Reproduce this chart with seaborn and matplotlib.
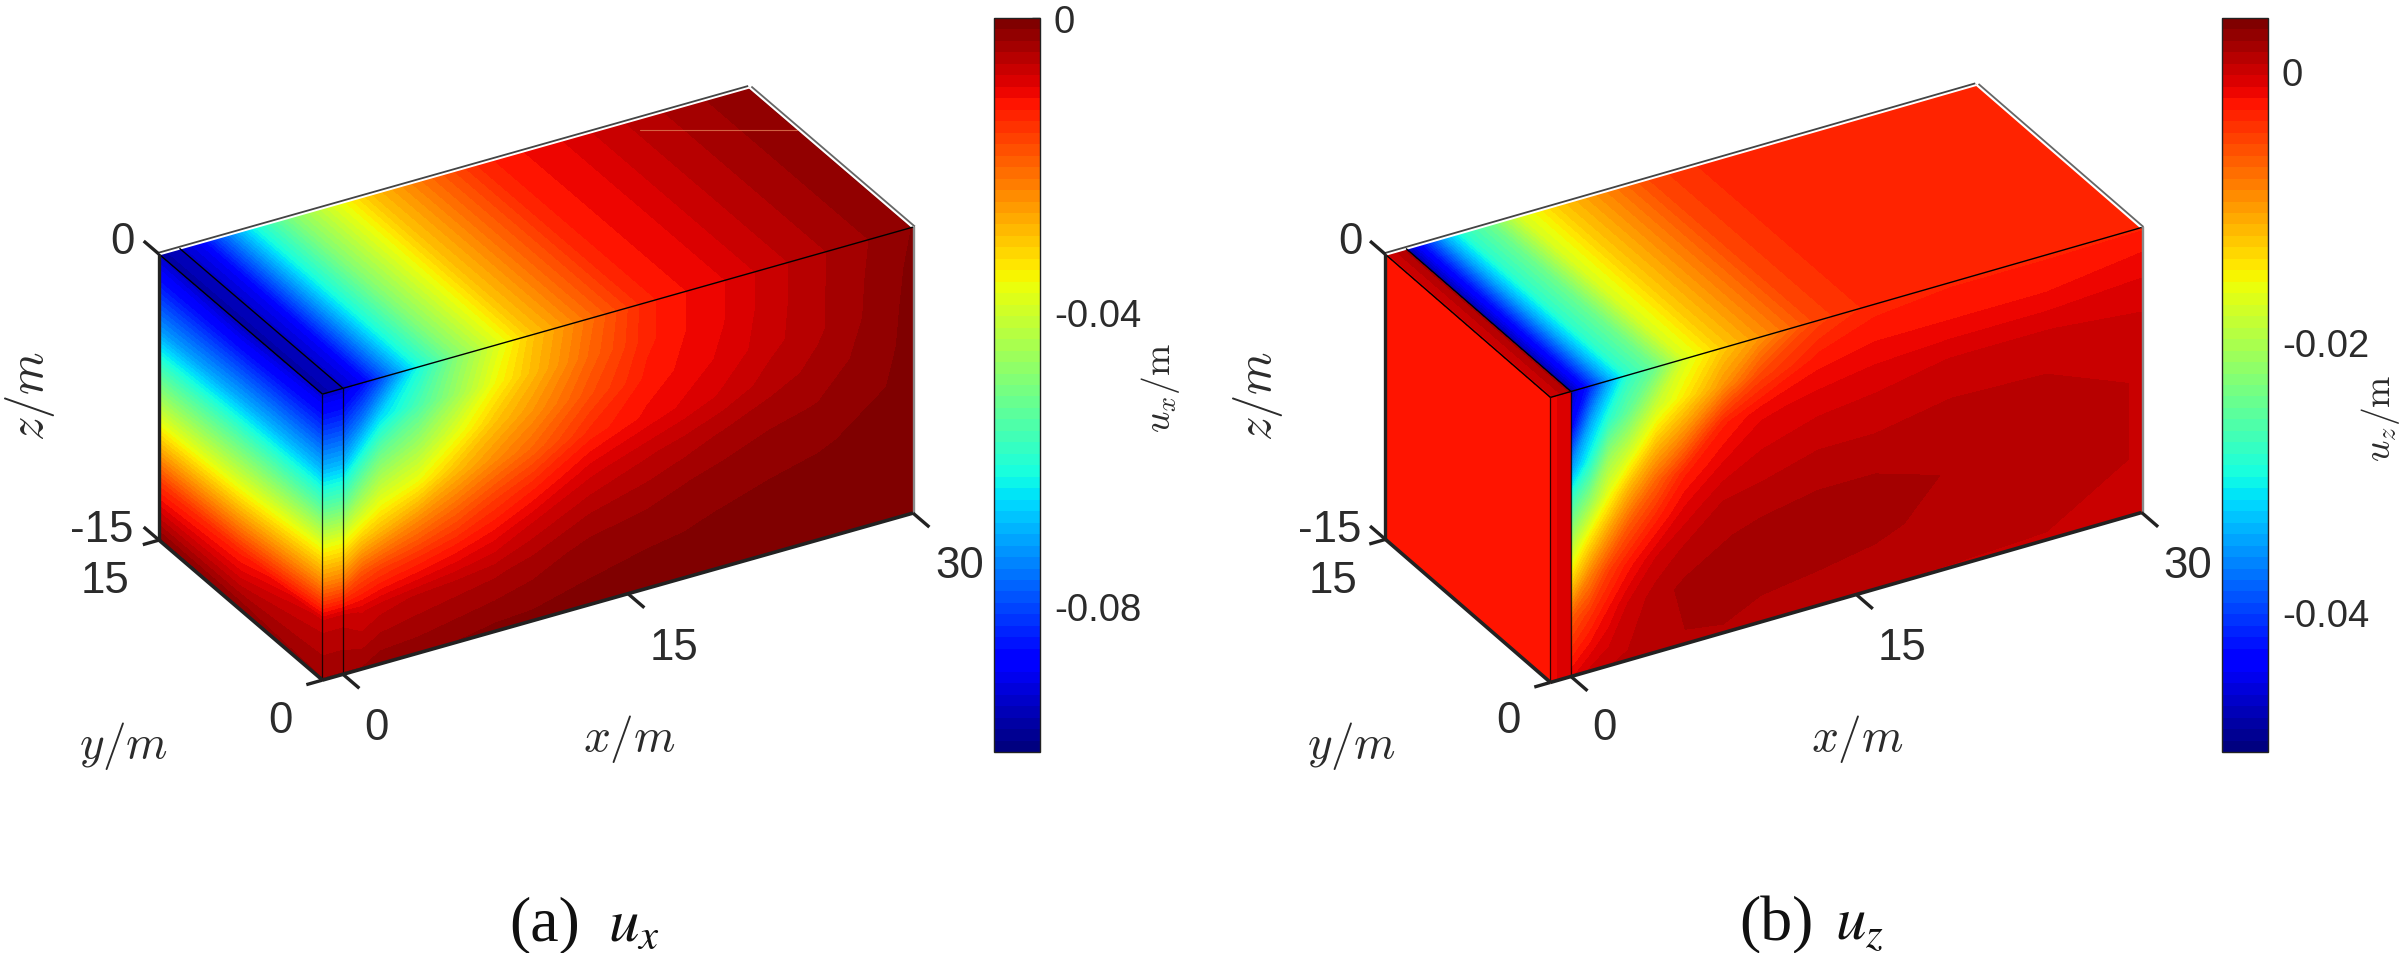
import numpy as np
import matplotlib
matplotlib.use("Agg")
import matplotlib.pyplot as plt
from matplotlib.colors import BoundaryNorm
from matplotlib.cm import ScalarMappable
import seaborn as sns

sns.set_theme(style="white")
plt.rcParams["axes.unicode_minus"] = False
plt.rcParams["font.family"] = ["Liberation Sans", "DejaVu Sans"]
plt.rcParams["mathtext.fontset"] = "cm"

# ---------- data (metres) ----------
depth_nodes = [0, 2, 4, 6, 8, 10, 12, 15]
y_nodes = [0, 7.5, 15]
x_ux = [0, 1, 2, 4, 6, 8, 10, 13, 16, 18, 20, 22.5, 25, 30]
ux_top = [-.093, -.089, -.080, -.062, -.049, -.039, -.030, -.021, -.013, -.011, -.0095, -.007, -.005, -.0015]
ux_front = [
    [-.092, -.081, -.069, -.054, -.037, -.023, -.007, -.003],
    [-.087, -.075, -.060, -.046, -.032, -.018, -.008, -.003],
    [-.080, -.066, -.052, -.040, -.029, -.016, -.007, -.002],
    [-.062, -.056, -.046, -.036, -.024, -.014, -.006, -.002],
    [-.049, -.046, -.0375, -.029, -.020, -.012, -.0055, -.0015],
    [-.039, -.036, -.030, -.024, -.016, -.010, -.005, -.001],
    [-.030, -.029, -.025, -.020, -.013, -.0075, -.004, -.001],
    [-.021, -.020, -.0175, -.0135, -.0085, -.005, -.0025, -.0008],
    [-.013, -.013, -.012, -.0105, -.0065, -.004, -.002, -.0006],
    [-.011, -.011, -.0105, -.009, -.0055, -.0032, -.0018, -.0006],
    [-.0095, -.0095, -.009, -.0075, -.0045, -.0026, -.0015, -.0007],
    [-.007, -.007, -.0068, -.0055, -.0035, -.002, -.0012, -.0008],
    [-.005, -.005, -.005, -.0042, -.003, -.0017, -.0011, -.001],
    [-.0015, -.0012, -.001, -.001, -.001, -.001, -.001, -.001],
]
ux_left = [
    [-.092, -.081, -.069, -.054, -.037, -.023, -.007, -.003],
    [-.094, -.082, -.070, -.055, -.041, -.027, -.013, -.0015],
    [-.093, -.083, -.072, -.057, -.043, -.029, -.015, -.001],
]
ux_slab_top = [-.096, -.094]

x_uz = [0, 1, 2, 3, 4.5, 6, 8, 10, 13, 16, 20, 25, 30]
uz_top = [-.048, -.0416, -.0346, -.0286, -.0242, -.0172, -.0128, -.0096, -.0050, -.0033, -.0030, -.0030, -.0030]
uz_front = [
    [-.047, -.0435, -.0356, -.027, -.020, -.0134, -.0063, -.0014],
    [-.0416, -.0346, -.0291, -.022, -.0145, -.0085, -.0041, -.0001],
    [-.0346, -.0286, -.0215, -.0161, -.0101, -.0047, -.002, .0005],
    [-.0286, -.0248, -.0183, -.0117, -.0063, -.0025, -.0003, .0007],
    [-.0242, -.0183, -.0123, -.0069, -.0031, -.0003, .001, .0013],
    [-.0172, -.0145, -.009, -.0031, -.0009, .0007, .0016, .0013],
    [-.0128, -.0096, -.0031, -.0012, .0005, .0013, .0018, .0013],
    [-.0096, -.0052, -.0014, -.0003, .0007, .0016, .0018, .001],
    [-.0050, -.0025, -.0009, .0002, .001, .0018, .0018, .0007],
    [-.0033, -.002, -.0006, .0002, .001, .0018, .0016, .0005],
    [-.0030, -.002, -.0003, .0005, .001, .0013, .001, .0005],
    [-.0030, -.002, -.0003, .0005, .0007, .0007, .0007, .0005],
    [-.0030, -.0015, -.0005, .0003, .0005, .0005, .0005, .0005],
]
uz_left = [
    [-.0024, -.0023, -.0024, -.0023, -.0024, -.0023, -.0024, -.0023],
    [-.0023, -.0024, -.0023, -.0024, -.0023, -.0024, -.0023, -.0024],
    [-.0024, -.0023, -.0024, -.0023, -.0024, -.0023, -.0024, -.0023],
]
uz_slab_top = [-.0006, .0016]
uz_slab_front = [-.0016, -.0003]

clim_x = (-0.0999, 0.0)
clim_z = (-0.05035, 0.00392)
ticks_x = [0, -0.04, -0.08]
ticks_z = [0, -0.02, -0.04]
tick_labels_x = ["0", "-0.04", "-0.08"]
tick_labels_z = ["0", "-0.02", "-0.04"]

W, H = 2408, 954
jet = plt.get_cmap("jet", 64)
TEXT = "#2b2b2b"
XLEFT = -1.08

fig = plt.figure(figsize=(W / 100, H / 100), dpi=100, facecolor="white")
ax = fig.add_axes([0, 0, 1, 1])
ax.set_axis_off()


class Box:
    def __init__(self, o, xv, yv, zv):
        self.o, self.xv, self.yv, self.zv = map(np.asarray, (o, xv, yv, zv))

    def p(self, x, y, d):
        x, y, d = np.broadcast_arrays(np.asarray(x, float), np.asarray(y, float), np.asarray(d, float))
        sx = self.o[0] + x * self.xv[0] / 30 + y * self.yv[0] / 15 + d * self.zv[0] / 15
        sy = self.o[1] + x * self.xv[1] / 30 + y * self.yv[1] / 15 + d * self.zv[1] / 15
        return sx, sy


def face(box, x, y, d, vals, levels, norm):
    sx, sy = box.p(x, y, d)
    ax.contourf(sx, sy, vals, levels=levels, cmap=jet, norm=norm, extend="both",
                antialiased=False, linewidths=0)


def line(box, a, b, color="black", lw=0.9, **kw):
    sx, sy = box.p([a[0], b[0]], [a[1], b[1]], [a[2], b[2]])
    ax.plot(sx, sy, color=color, lw=lw, solid_capstyle="butt", **kw)


def draw_panel(box, xn, top, front, left, slab_top, slab_front, clim):
    levels = np.linspace(clim[0], clim[1], 65)
    norm = BoundaryNorm(levels, 64)
    d = np.array(depth_nodes, float)
    xa = np.array(xn, float)
    yy = np.array(y_nodes, float)
    # left face
    Y, D = np.meshgrid(yy, d, indexing="ij")
    face(box, XLEFT, Y, D, np.array(left), levels, norm)
    # slab front
    sx = np.array([XLEFT, 0.0])
    X, D = np.meshgrid(sx, d, indexing="ij")
    if slab_front is None:
        sf = np.vstack([np.array(left)[0], np.array(front)[0]])
    else:
        sf = np.array([[slab_front[0]] * 8, [slab_front[1]] * 8])
    face(box, X, 0, D, sf, levels, norm)
    # slab top
    X, Y = np.meshgrid(sx, np.array([0.0, 15.0]), indexing="ij")
    face(box, X, Y, 0, np.array([[slab_top[0]] * 2, [slab_top[1]] * 2]), levels, norm)
    # main front
    X, D = np.meshgrid(xa, d, indexing="ij")
    face(box, X, 0, D, np.array(front), levels, norm)
    # main top
    X, Y = np.meshgrid(xa, np.array([0.0, 15.0]), indexing="ij")
    face(box, X, Y, 0, np.column_stack([top, top]), levels, norm)

    # back edges: dark grey with a white gap
    for a, b in [((XLEFT, 15, 0), (30, 15, 0)), ((30, 15, 0), (30, 0, 0))]:
        line(box, a, b, color="white", lw=2.0)
    line(box, (XLEFT, 15.12, 0), (30, 15.12, 0), color="#444444", lw=1.3)
    line(box, (30.1, 15, 0), (30.1, 0, 0), color="#666666", lw=1.3)
    line(box, (30.06, 0, 0), (30.06, 0, 15), color="#8a8a8a", lw=1.7)
    # thin black edges
    line(box, (XLEFT, 0, 0), (30, 0, 0), lw=1.0)
    line(box, (XLEFT, 15, 0), (XLEFT, 0, 0), lw=1.0)
    line(box, (0, 15, 0), (0, 0, 0), lw=1.0)
    line(box, (XLEFT, 0, 0), (XLEFT, 0, 15), lw=0.9, alpha=0.8)
    line(box, (0, 0, 0), (0, 0, 15), lw=0.9, alpha=0.8)
    # thick axes
    line(box, (XLEFT, 15, 0), (XLEFT, 15, 15), color="#222222", lw=2.4)
    line(box, (XLEFT, 15, 15), (XLEFT, 0, 15), color="#222222", lw=2.6)
    line(box, (XLEFT, 0, 15), (30, 0, 15), color="#222222", lw=2.6)
    # ticks
    for xt in (0, 15, 30):
        line(box, (xt, 0, 15), (xt, -1.5, 15), color="#222222", lw=2.4)
    for yt in (0, 15):
        line(box, (XLEFT, yt, 15), (XLEFT - 0.85, yt, 15), color="#222222", lw=2.4)
    for dt in (0, 15):
        line(box, (XLEFT, 15, dt), (XLEFT, 16.4, dt), color="#222222", lw=2.4)


def label(x, y, s, size=31.5, **kw):
    kw.setdefault("color", TEXT)
    ax.text(x, y, s, fontsize=size, ha="center", va="center", **kw)


def colorbar(left, width, clim, ticks, tick_labels):
    c = fig.add_axes([left / W, 1 - 753 / H, width / W, (753 - 19) / H])
    levels = np.linspace(clim[0], clim[1], 65)
    cb = fig.colorbar(ScalarMappable(BoundaryNorm(levels, 64), jet), cax=c, spacing="proportional")
    cb.set_ticks(ticks, labels=tick_labels)
    cb.ax.minorticks_off()
    cb.ax.tick_params(direction="in", length=5.8, width=1, color="#222222", labelsize=27.5,
                      labelcolor=TEXT, pad=10, right=True, left=False)
    cb.outline.set_edgecolor("#222222")
    cb.outline.set_linewidth(1.0)
    return cb


def tick_texts(dx):
    label(122 + dx, 243, "0")
    label(102 + dx, 531, "-15")
    label(105 + dx, 582, "15")
    label(280 + dx, 722, "0")
    label(376 + dx, 729, "0")
    label(674 + dx, 649, "15")
    label(960 + dx, 567, "30")
    label(30 + dx, 396, r"$z/m$", size=35, rotation=90)
    label(123 + dx, 746, r"$y/m$", size=34)
    label(629 + dx, 739, r"$x/m$", size=34)


# ---------- panel (a) ----------
box_a = Box((343, 389.3), (570, -161.2), (-163.5, -140), (0, 286))
draw_panel(box_a, x_ux, ux_top, ux_front, ux_left, ux_slab_top, None, clim_x)
ax.plot([640, 797], [131, 131], color="#e07a55", lw=0.8, alpha=0.8)
colorbar(994, 46, clim_x, ticks_x, tick_labels_x)
tick_texts(0)
label(1160, 388, r"$u_x/\mathrm{m}$", size=27, rotation=90)
label(545, 925, "(a)", size=46, family="Liberation Serif", color="#111111")
label(634, 925, r"$u_x$", size=44, math_fontfamily="stix", color="#111111")

# ---------- panel (b) ----------
box_b = Box((1571, 392.5), (570.6, -164), (-165, -143), (0, 285))
draw_panel(box_b, x_uz, uz_top, uz_front, uz_left, uz_slab_top, uz_slab_front, clim_z)
colorbar(2222, 46, clim_z, ticks_z, tick_labels_z)
tick_texts(1228)
label(2381, 418, r"$u_z/\mathrm{m}$", size=27, rotation=90)
label(1776, 925, "(b)", size=46, family="Liberation Serif", color="#111111")
label(1859, 925, r"$u_z$", size=44, math_fontfamily="stix", color="#111111")

ax.set_xlim(0, W)
ax.set_ylim(H, 0)
fig.savefig("out.png", dpi=100, facecolor="white")
